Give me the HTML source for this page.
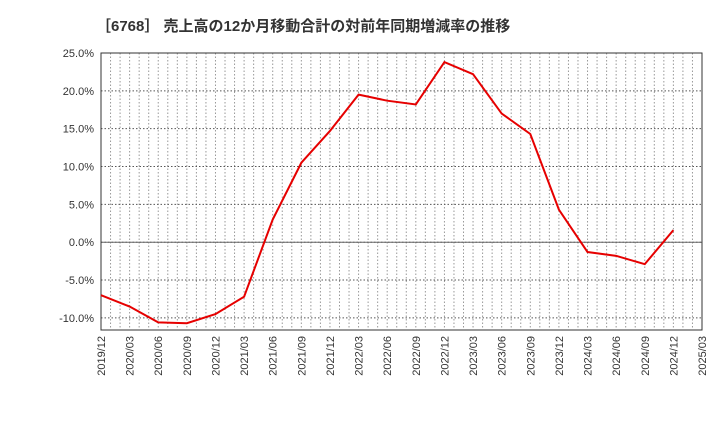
<!DOCTYPE html>
<html><head><meta charset="utf-8"><style>
body{margin:0;background:#fff;font-family:"Liberation Sans","Noto Sans CJK JP",sans-serif;}
svg text{font-family:"Liberation Sans","Noto Sans CJK JP",sans-serif;}
</style></head><body>
<svg id="chart" width="720" height="440">
<text x="96" y="31" font-size="15" font-weight="bold" fill="#333">［6768］ 売上高の12か月移動合計の対前年同期増減率の推移</text>
<g id="grid"></g><g id="axes"></g><g id="series"></g>
</svg>
<script>
const categories=["2019/12","2020/03","2020/06","2020/09","2020/12","2021/03","2021/06","2021/09","2021/12","2022/03","2022/06","2022/09","2022/12","2023/03","2023/06","2023/09","2023/12","2024/03","2024/06","2024/09","2024/12","2025/03"];
const values=[-7.0,-8.5,-10.6,-10.7,-9.5,-7.2,3.0,10.5,14.7,19.5,18.7,18.2,23.8,22.2,17.0,14.3,4.3,-1.3,-1.8,-2.9,1.6];
const yTicks=[25,20,15,10,5,0,-5,-10];
const L=101,R=702,T=53,B=330,yMax=25,yMin=-11.6;
const ns="http://www.w3.org/2000/svg";
const xs=i=>L+(R-L)*i/(categories.length-1);
const ys=v=>T+(yMax-v)*(B-T)/(yMax-yMin);
function mk(t,a,p){const e=document.createElementNS(ns,t);for(const k in a)e.setAttribute(k,a[k]);p.appendChild(e);return e;}
const grid=document.getElementById('grid'),axes=document.getElementById('axes'),ser=document.getElementById('series');
const nm=(categories.length-1)*3;
for(let m=1;m<nm;m++){const x=L+(R-L)*m/nm;
const ln=mk('line',{x1:x,x2:x,y1:T,y2:B,stroke:'#999','stroke-dasharray':'1.5,2','stroke-width':1},grid);

}
yTicks.forEach(v=>{const y=ys(v);
const ln=mk('line',{x1:L,x2:R,y1:y,y2:y,stroke:'#555','stroke-dasharray':'1.5,2','stroke-width':1},grid);


const t=mk('text',{x:L-7,y:y+4,'text-anchor':'end','font-size':11,fill:'#333'},axes);t.textContent=v.toFixed(1)+'%';

});
const z=mk('line',{x1:L,x2:R,y1:ys(0),y2:ys(0),stroke:'#666','stroke-width':1},axes);


const fr=mk('rect',{x:L,y:T,width:R-L,height:B-T,fill:'none',stroke:'#333','stroke-width':1},axes);


categories.forEach((c,i)=>{const x=xs(i);
const t=mk('text',{x:x+4,y:B+6,'text-anchor':'end','font-size':11,fill:'#333',transform:`rotate(-90 ${x+4} ${B+6})`},axes);t.textContent=c;

});
const p=mk('polyline',{points:values.map((v,i)=>xs(i)+','+ys(v)).join(' '),fill:'none',stroke:'#e60000','stroke-width':2},ser);


</script>
</body></html>
